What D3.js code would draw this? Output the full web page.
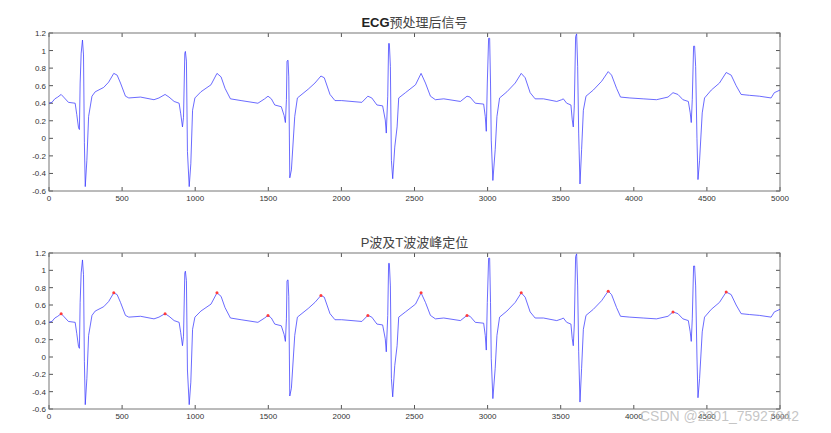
<!DOCTYPE html>
<html>
<head>
<meta charset="utf-8">
<script src="https://cdn.jsdelivr.net/npm/d3@7"></script>
<style>
  body { margin: 0; background: #fff; }
  svg { display: block; }
</style>
</head>
<body>
<script>
// sample index / amplitude
const sampleIdx = [0, 20, 40, 60, 83, 100, 133, 179, 190, 202, 208, 213, 220, 229, 236, 242, 248, 259, 271, 294,
  316, 374, 408, 443, 466, 489, 523, 546, 626, 718, 752, 794, 821, 856, 890, 901, 913, 920, 929, 933,
  940, 947, 959, 970, 982, 998, 1039, 1108, 1149, 1177, 1204, 1241, 1314, 1429, 1475, 1498, 1521, 1544, 1589, 1608,
  1617, 1624, 1628, 1635, 1640, 1647, 1658, 1681, 1699, 1773, 1819, 1860, 1883, 1922, 1956, 2002, 2140, 2181, 2208, 2243,
  2282, 2300, 2307, 2317, 2323, 2328, 2335, 2342, 2351, 2365, 2381, 2392, 2438, 2507, 2545, 2575, 2609, 2643, 2700, 2814,
  2859, 2880, 2916, 2973, 2984, 2991, 2998, 3007, 3014, 3020, 3025, 3036, 3052, 3064, 3082, 3132, 3189, 3230, 3257, 3291,
  3325, 3382, 3473, 3507, 3518, 3541, 3570, 3579, 3586, 3593, 3602, 3609, 3616, 3623, 3632, 3643, 3655, 3673, 3723, 3780,
  3825, 3848, 3882, 3909, 3973, 4064, 4155, 4234, 4268, 4302, 4336, 4373, 4386, 4393, 4400, 4409, 4416, 4423, 4432, 4439,
  4450, 4468, 4484, 4530, 4586, 4632, 4666, 4700, 4734, 4791, 4859, 4939, 4961, 5000]
const ecgValue = [0.40, 0.41, 0.45, 0.47, 0.50, 0.47, 0.41, 0.40, 0.27, 0.12, 0.10, 0.63, 0.97, 1.12, 0.95, -0.05, -0.55, -0.25, 0.25, 0.48,
  0.53, 0.58, 0.64, 0.74, 0.72, 0.63, 0.48, 0.46, 0.47, 0.44, 0.46, 0.50, 0.47, 0.42, 0.40, 0.28, 0.13, 0.24, 0.97, 0.99,
  0.88, -0.15, -0.55, -0.29, 0.32, 0.46, 0.53, 0.61, 0.74, 0.70, 0.57, 0.45, 0.43, 0.40, 0.45, 0.48, 0.45, 0.38, 0.36, 0.26,
  0.18, 0.44, 0.88, 0.89, 0.70, -0.45, -0.36, 0.25, 0.46, 0.56, 0.63, 0.71, 0.69, 0.50, 0.43, 0.43, 0.41, 0.48, 0.46, 0.38,
  0.37, 0.21, 0.06, 0.48, 1.08, 1.08, 0.82, -0.25, -0.46, -0.10, 0.13, 0.46, 0.52, 0.61, 0.74, 0.63, 0.48, 0.44, 0.45, 0.42,
  0.48, 0.47, 0.40, 0.39, 0.25, 0.08, 0.63, 1.14, 1.14, 0.63, -0.02, -0.48, -0.13, 0.25, 0.46, 0.53, 0.63, 0.74, 0.69, 0.52,
  0.45, 0.45, 0.42, 0.44, 0.45, 0.40, 0.38, 0.21, 0.13, 0.37, 1.16, 1.19, 0.82, 0.06, -0.52, -0.13, 0.32, 0.48, 0.55, 0.65,
  0.76, 0.72, 0.57, 0.47, 0.46, 0.45, 0.44, 0.47, 0.52, 0.50, 0.44, 0.42, 0.29, 0.18, 0.44, 1.05, 1.05, 0.82, 0.00, -0.47,
  -0.25, 0.29, 0.46, 0.55, 0.63, 0.75, 0.72, 0.60, 0.50, 0.49, 0.48, 0.46, 0.52, 0.55]

// detected peaks (lower panel markers)
const pPeakIdx = [83, 794, 1498, 2181, 2859, 4268]
const pPeakVal = [0.50, 0.50, 0.48, 0.48, 0.48, 0.52]
const tPeakIdx = [443, 1149, 1860, 2545, 3230, 3825, 4632]
const tPeakVal = [0.74, 0.74, 0.71, 0.74, 0.74, 0.76, 0.75]

const xTicks = d3.range(0, 5001, 500)
const yTicks = d3.range(-0.6, 1.21, 0.2).map(v => Math.round(v * 10) / 10)

// [bold latin prefix, rest]
const titles = [['ECG', '预处理后信号'], ['', 'P波及T波波峰定位']]

const W = 831
const H = 433
const left = 49
const right = 780

const svg = d3.select('body').append('svg')
  .attr('width', W)
  .attr('height', H)

svg.append('rect').attr('width', W).attr('height', H).attr('fill', '#fff')

const x = d3.scaleLinear().domain([0, 5000]).range([left, right])

const ecg = sampleIdx.map((s, i) => ({ s, v: ecgValue[i] }))

function panel (top, bottom, title, markers) {
  const y = d3.scaleLinear().domain([-0.6, 1.2]).range([bottom, top])
  const g = svg.append('g')

  // inward ticks on all four sides, MATLAB style
  const tickLen = 4
  g.selectAll('.xtb').data(xTicks).enter().append('line')
    .attr('x1', d => x(d)).attr('x2', d => x(d))
    .attr('y1', bottom).attr('y2', bottom - tickLen)
    .attr('stroke', '#555').attr('stroke-width', 1)
  g.selectAll('.xtt').data(xTicks).enter().append('line')
    .attr('x1', d => x(d)).attr('x2', d => x(d))
    .attr('y1', top).attr('y2', top + tickLen)
    .attr('stroke', '#555').attr('stroke-width', 1)
  g.selectAll('.ytl').data(yTicks).enter().append('line')
    .attr('x1', left).attr('x2', left + tickLen)
    .attr('y1', d => y(d)).attr('y2', d => y(d))
    .attr('stroke', '#555').attr('stroke-width', 1)
  g.selectAll('.ytr').data(yTicks).enter().append('line')
    .attr('x1', right).attr('x2', right - tickLen)
    .attr('y1', d => y(d)).attr('y2', d => y(d))
    .attr('stroke', '#555').attr('stroke-width', 1)

  g.append('rect')
    .attr('x', left).attr('y', top)
    .attr('width', right - left).attr('height', bottom - top)
    .attr('fill', 'none').attr('stroke', '#777').attr('stroke-width', 1)

  g.selectAll('.xl').data(xTicks).enter().append('text')
    .attr('x', d => x(d)).attr('y', bottom + 10)
    .attr('text-anchor', 'middle')
    .attr('font-family', 'Liberation Sans, Arial, sans-serif')
    .attr('font-size', 8).attr('fill', '#333')
    .text(d => d)
  g.selectAll('.yl').data(yTicks).enter().append('text')
    .attr('x', left - 3).attr('y', d => y(d) + 3)
    .attr('text-anchor', 'end')
    .attr('font-family', 'Liberation Sans, Arial, sans-serif')
    .attr('font-size', 8).attr('fill', '#333')
    .text(d => d)

  const line = d3.line().x(d => x(d.s)).y(d => y(d.v))
  g.append('path')
    .datum(ecg)
    .attr('d', line)
    .attr('fill', 'none')
    .attr('stroke', '#3a3aff')
    .attr('stroke-opacity', 0.75)
    .attr('stroke-width', 1)

  if (markers) {
    const pts = pPeakIdx.map((s, i) => ({ s, v: pPeakVal[i] }))
      .concat(tPeakIdx.map((s, i) => ({ s, v: tPeakVal[i] })))
    g.selectAll('.pk').data(pts).enter().append('circle')
      .attr('cx', d => x(d.s)).attr('cy', d => y(d.v))
      .attr('r', 1.5)
      .attr('fill', '#ff3b3b')
  }

  const t = svg.append('text')
    .attr('x', (left + right) / 2)
    .attr('y', top - 6)
    .attr('text-anchor', 'middle')
    .attr('font-family', 'Liberation Sans, Noto Sans CJK SC, sans-serif')
    .attr('font-size', 13).attr('fill', '#444')
  if (title[0]) {
    t.append('tspan').attr('font-weight', 'bold').attr('fill', '#222').text(title[0])
  }
  t.append('tspan').text(title[1])
}

panel(33, 191, titles[0], false)
panel(253, 409, titles[1], true)

svg.append('text')
  .attr('x', 640).attr('y', 421)
  .attr('font-family', 'Liberation Sans, Arial, sans-serif')
  .attr('font-size', 14).attr('fill', '#bbb').attr('fill-opacity', 0.85)
  .text('CSDN @2201_75927842')
</script>
</body>
</html>
